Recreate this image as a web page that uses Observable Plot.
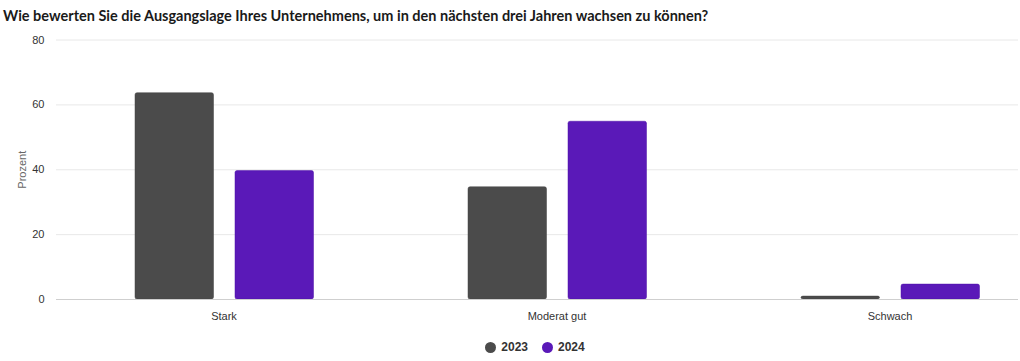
<!DOCTYPE html>
<html>
<head>
<meta charset="utf-8">
<script src="https://cdn.jsdelivr.net/npm/d3@7"></script>
<script src="https://cdn.jsdelivr.net/npm/@observablehq/plot@0.6"></script>
<style>
  html, body { margin: 0; padding: 0; background: #fff; }
  #title { height: 30px; box-sizing: border-box; padding: 7px 0 0 3px; font-family: Lato, "Noto Sans", sans-serif; font-weight: bold; font-size: 14.5px; color: #1a1a1a; line-height: 18px; white-space: nowrap; }
  #legend { height: 28px; display: flex; justify-content: center; align-items: center; gap: 14px; font-family: "Liberation Sans", Arial, sans-serif; font-weight: bold; font-size: 12px; color: #333; padding-left: 50px; }
  .item { display: flex; align-items: center; gap: 5px; }
  .dot { width: 11px; height: 11px; border-radius: 50%; display: inline-block; }
</style>
</head>
<body>
<div id="title">Wie bewerten Sie die Ausgangslage Ihres Unternehmens, um in den nächsten drei Jahren wachsen zu können?</div>
<div id="chart"></div>
<div id="legend"></div>
<script>
const categories = ["Stark", "Moderat gut", "Schwach"];
const series = ["2023", "2024"];
const values2023 = [63.6, 34.6, 0.9];
const values2024 = [39.6, 54.8, 4.6];
const yTicks = [0, 20, 40, 60, 80];
const colors = ["#4b4b4b", "#5a19b8"];

const data2023 = categories.map((c, i) => ({category: c, value: values2023[i]}));
const data2024 = categories.map((c, i) => ({category: c, value: values2024[i]}));

const chart = Plot.plot({
  width: 1020,
  height: 303,
  marginTop: 9.5,
  marginBottom: 34,
  marginLeft: 56,
  marginRight: 2,
  style: {fontFamily: "Liberation Sans, Arial, sans-serif", fontSize: "11px", color: "#333", background: "#fff"},
  x: {domain: categories, range: [56, 1057.5], padding: 0, label: null},
  y: {domain: [0, 80], label: null},
  marks: [
    Plot.ruleY(yTicks.filter(d => d > 0), {stroke: "#e8e8e8"}),
    Plot.barY(data2023, {x: "category", y: "value", fill: colors[0], stroke: "#444", strokeWidth: 0.5, insetLeft: 78, insetRight: 176.5, rx: 2}),
    Plot.barY(data2024, {x: "category", y: "value", fill: colors[1], stroke: "#4e12a8", strokeWidth: 0.5, insetLeft: 178, insetRight: 76.5, rx: 2}),
    Plot.ruleY([0], {stroke: "#cfcfcf"}),
    Plot.axisY({ticks: yTicks, tickSize: 0, tickPadding: 12, label: null, fill: "#333"}),
    Plot.axisY({ticks: [], tickSize: 0, label: "Prozent", labelAnchor: "center", labelArrow: "none", labelOffset: 38, fill: "#666"}),
    Plot.axisX({tickSize: 0, tickPadding: 13, label: null, fill: "#333"})
  ]
});
document.getElementById("chart").appendChild(chart);

const legend = document.getElementById("legend");
series.forEach((s, i) => {
  const item = document.createElement("span");
  item.className = "item";
  const dot = document.createElement("span");
  dot.className = "dot";
  dot.style.background = colors[i];
  item.appendChild(dot);
  item.appendChild(document.createTextNode(s));
  legend.appendChild(item);
});
</script>
</body>
</html>
